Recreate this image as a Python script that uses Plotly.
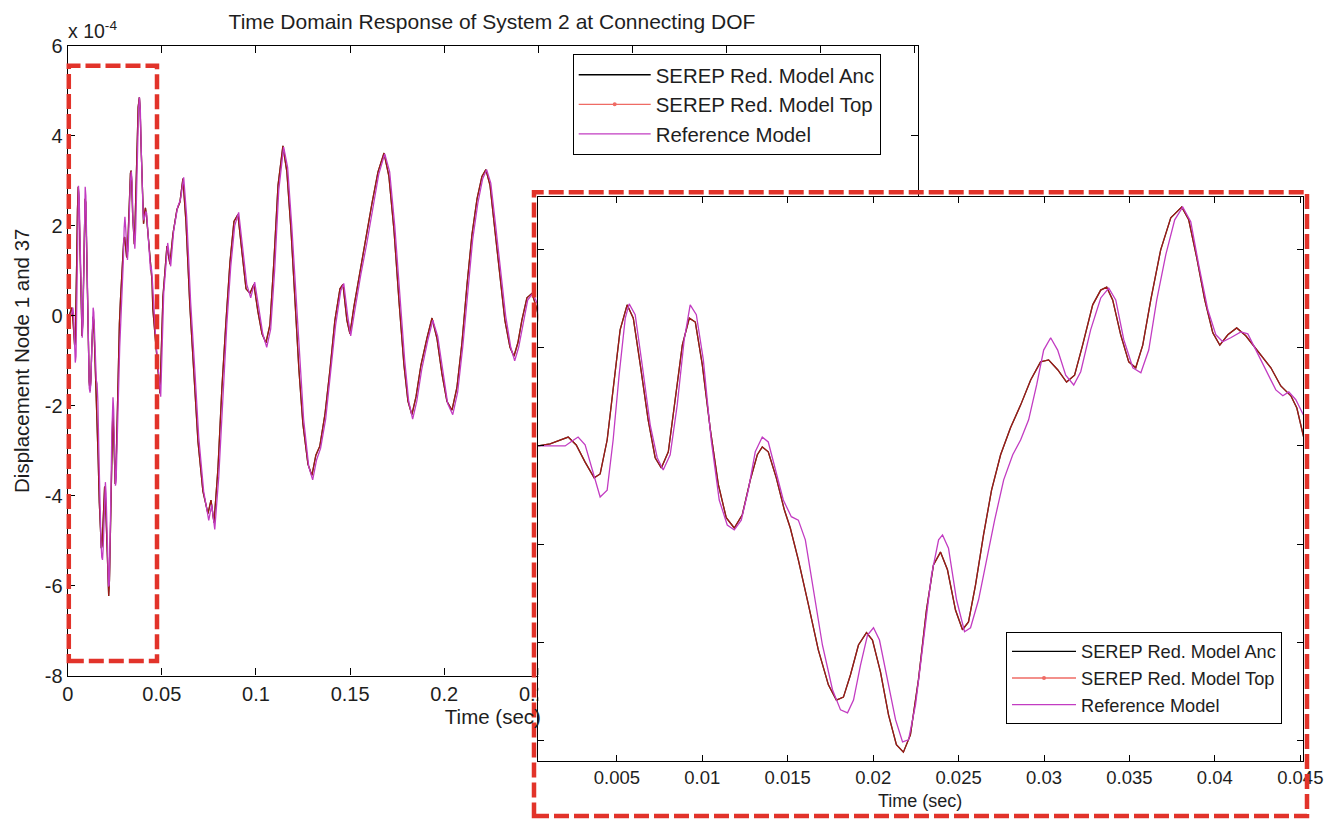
import plotly.graph_objects as go

# ---------------------------------------------------------------------------
# Displacement at the connecting DOF (units of 1e-4), time in seconds.
# Early window (0 - 0.045 s) sampled finely, later part more coarsely.
# ---------------------------------------------------------------------------
t_anc_early = [0.0, 0.00039, 0.00109, 0.00168, 0.00215, 0.00262, 0.00314, 0.00367, 0.00402, 0.00443, 0.00484,
               0.00519, 0.00560, 0.00596, 0.00637, 0.00683, 0.00724, 0.00760, 0.00801, 0.00842, 0.00883,
               0.00924, 0.00959, 0.01000, 0.01047, 0.01094, 0.01140, 0.01187, 0.01234, 0.01281, 0.01322,
               0.01351, 0.01386, 0.01433, 0.01480, 0.01515, 0.01562, 0.01621, 0.01679, 0.01738, 0.01785,
               0.01826, 0.01867, 0.01914, 0.01961, 0.01996, 0.02043, 0.02090, 0.02136, 0.02177, 0.02218,
               0.02265, 0.02312, 0.02353, 0.02394, 0.02435, 0.02482, 0.02523, 0.02558, 0.02599, 0.02646,
               0.02693, 0.02746, 0.02804, 0.02863, 0.02922, 0.02980, 0.03027, 0.03080, 0.03132, 0.03179,
               0.03226, 0.03285, 0.03332, 0.03367, 0.03402, 0.03449, 0.03496, 0.03537, 0.03578, 0.03625,
               0.03683, 0.03742, 0.03806, 0.03847, 0.03894, 0.03941, 0.03988, 0.04029, 0.04076, 0.04128,
               0.04181, 0.04257, 0.04328, 0.04386, 0.04445, 0.04480, 0.04521]
v_anc_early = [0.0, 0.0, 0.04, 0.12, 0.18, 0.02, -0.33, -0.65, -0.57, 0.12, 1.34,
               2.36, 2.87, 2.60, 1.65, 0.53, -0.24, -0.45, -0.12, 0.94, 2.05,
               2.60, 2.52, 1.65, 0.33, -0.79, -1.46, -1.67, -1.40, -0.69, -0.18,
               -0.02, -0.12, -0.65, -1.30, -1.67, -2.32, -3.23, -4.15, -4.86, -5.17,
               -5.11, -4.66, -4.05, -3.80, -3.95, -4.60, -5.47, -6.08, -6.23, -5.88,
               -4.76, -3.34, -2.42, -2.16, -2.52, -3.34, -3.74, -3.58, -2.83, -1.81,
               -0.90, -0.18, 0.37, 0.83, 1.34, 1.71, 1.75, 1.55, 1.30, 1.44,
               2.05, 2.87, 3.17, 3.23, 2.97, 2.26, 1.71, 1.59, 2.05, 2.97,
               3.99, 4.64, 4.86, 4.60, 3.83, 2.97, 2.30, 2.05, 2.26, 2.40,
               2.24, 1.91, 1.59, 1.22, 1.02, 0.77, 0.16]

t_anc_late = [0.0464, 0.0490, 0.0506, 0.0527, 0.0543, 0.0559, 0.0580, 0.0596, 0.0612, 0.0628,
              0.0649, 0.0671, 0.0692, 0.0718, 0.0745, 0.0761, 0.0777, 0.0798, 0.0819, 0.0841,
              0.0862, 0.0883, 0.0904, 0.0926, 0.0947, 0.0968, 0.0989, 0.1010, 0.1032, 0.1053,
              0.1074, 0.1095, 0.1117, 0.1143, 0.1164, 0.1186, 0.1207, 0.1228, 0.1249, 0.1276,
              0.1297, 0.1318, 0.1339, 0.1366, 0.1393, 0.1419, 0.1446, 0.1462, 0.1483, 0.1499,
              0.1520, 0.1552, 0.1584, 0.1616, 0.1648, 0.1680, 0.1706, 0.1733, 0.1760, 0.1786,
              0.1807, 0.1828, 0.1850, 0.1876, 0.1908, 0.1935, 0.1961, 0.1988, 0.2014, 0.2041,
              0.2067, 0.2094, 0.2121, 0.2147, 0.2174, 0.2200, 0.2221, 0.2243, 0.2269, 0.2296,
              0.2322, 0.2349, 0.2370, 0.2391, 0.2412, 0.2439, 0.2466, 0.2492, 0.2519]
v_anc_late = [-0.46, -1.73, 0.43, 1.55, 1.15, 1.82, 2.36, 2.53, 3.05, 2.10,
              0.20, -1.30, -2.80, -3.90, -4.40, -4.10, -4.60, -3.40, -1.60, -0.10,
              1.20, 2.10, 2.25, 1.40, 0.60, 0.50, 0.70, 0.10, -0.40, -0.60,
              -0.20, 1.20, 2.90, 3.78, 3.20, 1.90, 0.30, -1.20, -2.40, -3.30,
              -3.55, -3.10, -2.90, -2.20, -1.20, -0.10, 0.60, 0.70, -0.10, -0.40,
              0.20, 1.00, 1.70, 2.50, 3.20, 3.62, 3.10, 1.90, 0.30, -1.10,
              -1.90, -2.20, -1.80, -1.10, -0.50, -0.05, -0.50, -1.30, -1.90, -2.10,
              -1.60, -0.60, 0.70, 1.80, 2.60, 3.10, 3.25, 2.90, 1.90, 0.80,
              -0.10, -0.70, -0.90, -0.60, -0.10, 0.40, 0.50, 0.15, -0.40]

t_ref_early = [0.0, 0.00039, 0.00139, 0.00197, 0.00238, 0.00273, 0.00314, 0.00355, 0.00402, 0.00443, 0.00478,
               0.00513, 0.00549, 0.00572, 0.00607, 0.00648, 0.00695, 0.00736, 0.00771, 0.00812, 0.00853,
               0.00894, 0.00929, 0.00965, 0.01006, 0.01052, 0.01099, 0.01146, 0.01187, 0.01228, 0.01269,
               0.01310, 0.01351, 0.01386, 0.01427, 0.01474, 0.01521, 0.01562, 0.01603, 0.01650, 0.01703,
               0.01762, 0.01809, 0.01850, 0.01885, 0.01926, 0.01967, 0.02002, 0.02037, 0.02084, 0.02131,
               0.02172, 0.02207, 0.02248, 0.02295, 0.02342, 0.02383, 0.02406, 0.02441, 0.02488, 0.02535,
               0.02570, 0.02617, 0.02664, 0.02711, 0.02764, 0.02817, 0.02863, 0.02910, 0.02957, 0.02998,
               0.03039, 0.03080, 0.03127, 0.03174, 0.03215, 0.03273, 0.03332, 0.03379, 0.03420, 0.03467,
               0.03520, 0.03567, 0.03613, 0.03660, 0.03713, 0.03765, 0.03812, 0.03859, 0.03906, 0.03959,
               0.04006, 0.04046, 0.04093, 0.04152, 0.04193, 0.04240, 0.04299, 0.04357, 0.04398, 0.04433,
               0.04474, 0.04527]
v_ref_early = [0.0, 0.0, 0.0, 0.0, 0.10, 0.18, 0.02, -0.49, -1.04, -0.90, 0.12,
               1.44, 2.60, 2.89, 2.67, 1.65, 0.43, -0.24, -0.49, -0.18, 0.83,
               2.16, 2.87, 2.67, 1.75, 0.12, -1.10, -1.61, -1.71, -1.51, -0.90,
               -0.12, 0.18, 0.08, -0.45, -1.10, -1.44, -1.51, -1.91, -2.93, -4.05,
               -4.96, -5.37, -5.43, -5.17, -4.46, -3.85, -3.70, -3.95, -4.76, -5.57,
               -6.02, -5.98, -5.27, -3.95, -2.62, -1.91, -1.81, -2.08, -3.13, -3.78,
               -3.70, -3.13, -2.32, -1.51, -0.69, -0.18, 0.12, 0.53, 1.24, 1.95,
               2.20, 1.95, 1.44, 1.24, 1.51, 2.36, 3.01, 3.21, 2.97, 2.16,
               1.59, 1.49, 1.95, 2.97, 3.89, 4.60, 4.86, 4.56, 3.68, 2.77,
               2.26, 2.12, 2.20, 2.32, 2.28, 1.95, 1.55, 1.14, 1.02, 1.10,
               0.94, 0.57]

t_ref_late = [0.0468, 0.0494, 0.0510, 0.0531, 0.0547, 0.0563, 0.0584, 0.0600, 0.0616, 0.0632,
              0.0653, 0.0675, 0.0696, 0.0722, 0.0749, 0.0765, 0.0781, 0.0802, 0.0823, 0.0845,
              0.0866, 0.0887, 0.0908, 0.0930, 0.0951, 0.0972, 0.0993, 0.1014, 0.1036, 0.1057,
              0.1078, 0.1099, 0.1121, 0.1147, 0.1168, 0.1190, 0.1211, 0.1232, 0.1253, 0.1280,
              0.1301, 0.1322, 0.1343, 0.1370, 0.1397, 0.1423, 0.1450, 0.1466, 0.1487, 0.1503,
              0.1524, 0.1556, 0.1588, 0.1620, 0.1652, 0.1684, 0.1710, 0.1737, 0.1764, 0.1790,
              0.1811, 0.1832, 0.1854, 0.1880, 0.1912, 0.1939, 0.1965, 0.1992, 0.2018, 0.2045,
              0.2071, 0.2098, 0.2125, 0.2151, 0.2178, 0.2204, 0.2225, 0.2247, 0.2273, 0.2300,
              0.2326, 0.2353, 0.2374, 0.2395, 0.2416, 0.2443, 0.2470, 0.2496, 0.2523]
v_ref_late = [-0.55, -1.80, 0.50, 1.62, 1.10, 1.90, 2.42, 2.60, 3.08, 2.20,
              0.30, -1.20, -2.70, -3.90, -4.55, -4.20, -4.75, -3.60, -1.80, -0.20,
              1.10, 2.00, 2.30, 1.50, 0.70, 0.40, 0.75, 0.20, -0.40, -0.70,
              -0.30, 1.00, 2.80, 3.75, 3.30, 2.00, 0.50, -1.00, -2.30, -3.35,
              -3.65, -3.20, -2.95, -2.30, -1.30, -0.20, 0.55, 0.72, 0.00, -0.45,
              0.10, 0.90, 1.60, 2.40, 3.15, 3.60, 3.20, 2.00, 0.40, -1.00,
              -1.90, -2.30, -1.90, -1.20, -0.55, -0.10, -0.45, -1.25, -1.95, -2.20,
              -1.70, -0.70, 0.60, 1.70, 2.50, 3.05, 3.25, 2.95, 2.00, 0.90,
              0.00, -0.70, -1.00, -0.70, -0.20, 0.35, 0.50, 0.25, -0.30]

# Full series for each model
t_anc = t_anc_early + t_anc_late
v_anc = v_anc_early + v_anc_late
# The two SEREP reductions coincide at this resolution
t_top = t_anc
v_top = v_anc
t_ref = t_ref_early + t_ref_late
v_ref = v_ref_early + v_ref_late

series_names = ["SEREP Red. Model Anc", "SEREP Red. Model Top", "Reference Model"]

main_xticks = [0, 0.05, 0.1, 0.15, 0.2, 0.25, 0.3, 0.35, 0.4, 0.45]
main_xticktext = ["0", "0.05", "0.1", "0.15", "0.2", "0.25", "0.3", "0.35", "0.4", "0.45"]
main_yticks = [-8, -6, -4, -2, 0, 2, 4, 6]
main_yticktext = ["-8", "-6", "-4", "-2", "0", "2", "4", "6"]
zoom_xticks = [0.005, 0.01, 0.015, 0.02, 0.025, 0.03, 0.035, 0.04, 0.045]
zoom_xticktext = ["0.005", "0.01", "0.015", "0.02", "0.025", "0.03", "0.035", "0.04", "0.045"]
zoom_yticks = [-6, -4, -2, 0, 2, 4]

# ---------------------------------------------------------------------------
W, H = 1333, 820
FONT = "Liberation Sans, Arial, Helvetica, sans-serif"
TXT = "#1e1e1e"
C_ANC = "#000000"
C_TOP = "#e8261c"
C_REF = "#c23cc2"
C_BOX = "#e2332a"


def fx(p):
    return p / W


def fy(p):
    return 1 - p / H


fig = go.Figure()

for xa, ya, leg in (("x", "y", "legend"), ("x2", "y2", "legend2")):
    fig.add_trace(go.Scatter(x=t_anc, y=v_anc, name=series_names[0], mode="lines",
                             line=dict(color=C_ANC, width=1.3), xaxis=xa, yaxis=ya,
                             legend=leg))
    # point markers only appear in the legend key; on the curve they stay hidden
    fig.add_trace(go.Scatter(x=t_top, y=v_top, name=series_names[1], mode="lines+markers",
                             line=dict(color=C_TOP, width=1.3), opacity=0.68,
                             marker=dict(size=4, color=C_TOP),
                             selectedpoints=[],
                             unselected=dict(marker=dict(opacity=0)),
                             xaxis=xa, yaxis=ya, legend=leg))
    fig.add_trace(go.Scatter(x=t_ref, y=v_ref, name=series_names[2], mode="lines",
                             line=dict(color=C_REF, width=1.3), xaxis=xa, yaxis=ya,
                             legend=leg))

axis_common = dict(showline=True, linecolor="black", linewidth=1.3, mirror="ticks",
                   ticks="inside", ticklen=7, tickwidth=1.2, tickcolor="black",
                   showgrid=False, zeroline=False, automargin=False,
                   tickfont=dict(family=FONT, size=20, color=TXT))

fig.update_layout(
    width=W, height=H, autosize=False,
    margin=dict(l=0, r=0, t=0, b=0, autoexpand=False),
    paper_bgcolor="white", plot_bgcolor="white",
    font=dict(family=FONT, color=TXT),
    title=dict(text="Time Domain Response of System 2 at Connecting DOF",
               x=fx(492), y=fy(22), xanchor="center", yanchor="middle",
               font=dict(family=FONT, size=21, color=TXT)),
    xaxis=dict(domain=[fx(67.7), fx(918)], range=[0, 0.4516], anchor="y",
               tickvals=main_xticks, ticktext=main_xticktext,
               title=dict(text="Time (sec)", standoff=2,
                          font=dict(family=FONT, size=20.5, color=TXT)),
               **axis_common),
    yaxis=dict(domain=[fy(675.5), fy(46)], range=[-8, 6], anchor="x",
               tickvals=main_yticks, ticktext=main_yticktext,
               title=dict(text="Displacement Node 1 and 37", standoff=9,
                          font=dict(family=FONT, size=20.5, color=TXT)),
               **axis_common),
    xaxis2=dict(domain=[fx(538.3), fx(1303)], range=[0.0004, 0.04516], anchor="y2",
                tickvals=zoom_xticks, ticktext=zoom_xticktext,
                **{**axis_common, "tickfont": dict(family=FONT, size=18.5, color=TXT), "ticklen": 6}),
    yaxis2=dict(domain=[fy(761), fy(196.7)], range=[-6.41, 5.07], anchor="x2",
                tickvals=zoom_yticks, showticklabels=False,
                **{**axis_common, "ticklen": 6}),
    legend=dict(x=fx(572.7), y=fy(54), xanchor="left", yanchor="top",
                bgcolor="white", bordercolor="black", borderwidth=1,
                font=dict(family=FONT, size=20.4, color=TXT), itemwidth=72,
                tracegroupgap=0),
    legend2=dict(x=fx(1006), y=fy(632), xanchor="left", yanchor="top",
                 bgcolor="white", bordercolor="black", borderwidth=1,
                 font=dict(family=FONT, size=18.2, color=TXT), itemwidth=64,
                 tracegroupgap=0),
    showlegend=True,
)

# "x 10^-4" exponent label of the main axis
fig.add_annotation(x=fx(66), y=fy(30), xref="paper", yref="paper", showarrow=False,
                   xanchor="left", yanchor="middle", text="x 10<sup>-4</sup>",
                   font=dict(family=FONT, size=19.5, color=TXT))
# x-axis title of the zoomed view
fig.add_annotation(x=fx(920), y=fy(801), xref="paper", yref="paper", showarrow=False,
                   xanchor="center", yanchor="middle", text="Time (sec)",
                   font=dict(family=FONT, size=18, color=TXT))

# Dashed highlight boxes: zoomed window on the main plot and the inset frame
dash = dict(color=C_BOX, width=4.5, dash="15px,5px")
fig.add_shape(type="rect", xref="paper", yref="paper", layer="above",
              x0=fx(68.8), x1=fx(157), y0=fy(661), y1=fy(65.7), line=dash)
fig.add_shape(type="rect", xref="paper", yref="paper", layer="above",
              x0=fx(534), x1=fx(1307), y0=fy(816), y1=fy(192.3), line=dash)

fig.write_html("out.html")
